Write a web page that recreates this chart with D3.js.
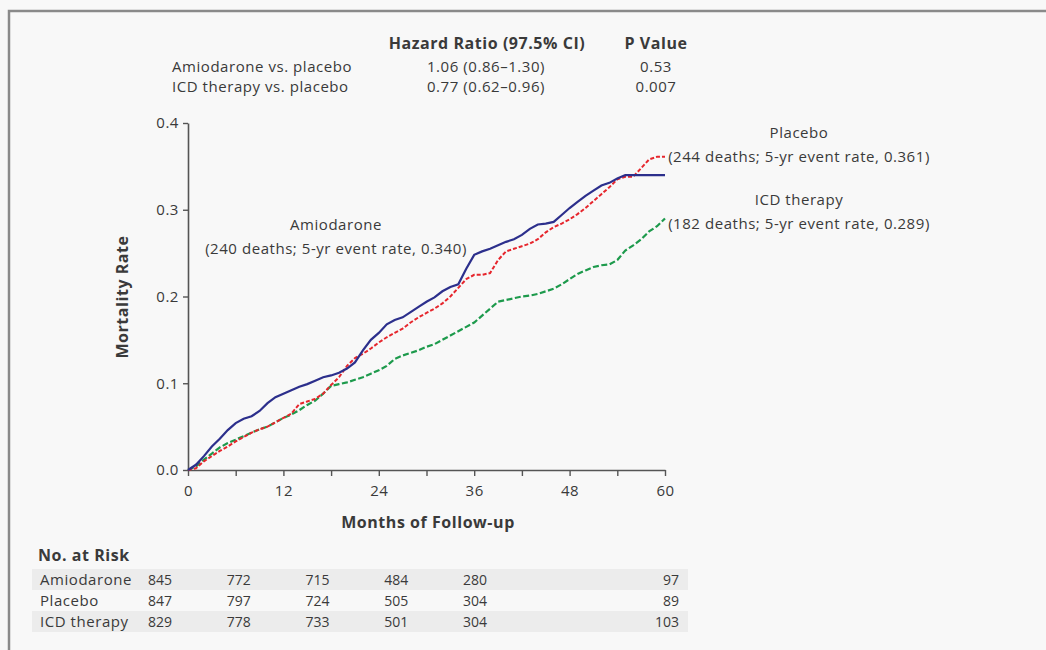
<!DOCTYPE html>
<meta charset="utf-8">
<script src="https://cdn.jsdelivr.net/npm/d3@7"></script>
<style>
  body { margin: 0; background: #f8f8f8; }
  text { font-family: "Open Sans", Lato, sans-serif; fill: #3a3a3a; letter-spacing: 0.55px; }
  text.num { letter-spacing: 0; }
</style>
<div id="chart"></div>
<script>

// months of follow-up (reading grid)
var months = d3.range(0, 61);

// cumulative mortality, one value per month
var amiodarone = [0, 0.006, 0.016, 0.027, 0.036, 0.046, 0.054, 0.059, 0.062, 0.068,
  0.077, 0.084, 0.088, 0.092, 0.096, 0.099, 0.103, 0.107, 0.109, 0.112,
  0.117, 0.124, 0.138, 0.150, 0.158, 0.168, 0.173, 0.176, 0.182, 0.188,
  0.194, 0.199, 0.206, 0.211, 0.214, 0.232, 0.248, 0.252, 0.255, 0.259,
  0.263, 0.266, 0.271, 0.278, 0.283, 0.284, 0.286, 0.294, 0.302, 0.309,
  0.316, 0.322, 0.328, 0.331, 0.336, 0.340, 0.340, 0.340, 0.340, 0.340, 0.340];
var placebo = [0, 0.002, 0.010, 0.016, 0.022, 0.027, 0.033, 0.038, 0.043, 0.047,
  0.050, 0.055, 0.060, 0.065, 0.076, 0.079, 0.082, 0.088, 0.098, 0.107,
  0.120, 0.129, 0.134, 0.140, 0.147, 0.153, 0.158, 0.163, 0.170, 0.176,
  0.181, 0.186, 0.192, 0.200, 0.210, 0.220, 0.225, 0.225, 0.227, 0.242,
  0.252, 0.255, 0.258, 0.261, 0.266, 0.274, 0.280, 0.284, 0.289, 0.295,
  0.302, 0.310, 0.318, 0.326, 0.335, 0.338, 0.338, 0.348, 0.358, 0.361, 0.361];
var icd = [0, 0.004, 0.012, 0.019, 0.026, 0.031, 0.035, 0.039, 0.043, 0.047,
  0.050, 0.055, 0.060, 0.064, 0.069, 0.075, 0.080, 0.088, 0.097, 0.099,
  0.101, 0.104, 0.107, 0.111, 0.115, 0.120, 0.128, 0.132, 0.135, 0.138,
  0.142, 0.145, 0.150, 0.155, 0.160, 0.165, 0.170, 0.178, 0.186, 0.194,
  0.196, 0.198, 0.200, 0.201, 0.203, 0.206, 0.209, 0.214, 0.220, 0.226,
  0.230, 0.234, 0.236, 0.237, 0.242, 0.253, 0.259, 0.266, 0.275, 0.281, 0.290];

var xTicks = [0, 12, 24, 36, 48, 60];
var yTicks = [0, 0.1, 0.2, 0.3, 0.4];

// hazard ratio table
var hrRows = ["Amiodarone vs. placebo", "ICD therapy vs. placebo"];
var hrValues = ["1.06 (0.86\u20131.30)", "0.77 (0.62\u20130.96)"];
var pValues = ["0.53", "0.007"];

// number at risk
var riskGroups = ["Amiodarone", "Placebo", "ICD therapy"];
var riskAmiodarone = [845, 772, 715, 484, 280, 97];
var riskPlacebo = [847, 797, 724, 505, 304, 89];
var riskIcd = [829, 778, 733, 501, 304, 103];

var W = 1046, H = 650;
var svg = d3.select("#chart").append("svg")
    .attr("width", W).attr("height", H);

svg.append("rect").attr("width", W).attr("height", H).attr("fill", "#f8f8f8");
// frame (top and left edge)
svg.append("path")
    .attr("d", "M9," + H + "V11H" + W)
    .attr("fill", "none").attr("stroke", "#8a8a8a").attr("stroke-width", 2.5);

var x = d3.scaleLinear().domain([0, 60]).range([188, 665]);
var y = d3.scaleLinear().domain([0, 0.4]).range([470, 123]);

// axes
var xAxis = svg.append("g")
    .attr("transform", "translate(0," + y(0) + ")")
    .call(d3.axisBottom(x).tickValues(d3.range(0, 61, 6)).tickSize(6).tickSizeOuter(0)
      .tickFormat(function (d) { return xTicks.indexOf(d) >= 0 ? d : ""; }));
var yAxis = svg.append("g")
    .attr("transform", "translate(" + x(0) + ",0)")
    .call(d3.axisLeft(y).tickValues(yTicks).tickSize(5).tickSizeOuter(0)
      .tickFormat(d3.format(".1f")));

[xAxis, yAxis].forEach(function (g) {
  g.select(".domain").attr("stroke", "#555").attr("stroke-width", 1.6);
  g.selectAll(".tick line").attr("stroke", "#555").attr("stroke-width", 1.4);
  g.selectAll(".tick text").attr("font-size", 15).attr("fill", "#444")
    .style("font-family", "'Open Sans', sans-serif");
});
xAxis.selectAll(".tick text").attr("dy", "1.1em");
yAxis.selectAll(".tick text").attr("dx", "-1px");

svg.append("text")
    .attr("x", 428).attr("y", 528)
    .attr("text-anchor", "middle")
    .attr("font-size", 16).attr("font-weight", "bold").attr("fill", "#2a2a2a")
    .text("Months of Follow-up");

svg.append("text")
    .attr("transform", "translate(128,297) rotate(-90)")
    .attr("text-anchor", "middle")
    .attr("font-size", 16).attr("font-weight", "bold").attr("fill", "#2a2a2a")
    .text("Mortality Rate");

// curves
var line = d3.line()
    .x(function (d, i) { return x(months[i]); })
    .y(function (d) { return y(d); });

svg.append("path").datum(icd)
    .attr("d", line).attr("fill", "none")
    .attr("stroke", "#1d9a4c").attr("stroke-width", 2.2)
    .attr("stroke-dasharray", "6,2.5");
svg.append("path").datum(placebo)
    .attr("d", line).attr("fill", "none")
    .attr("stroke", "#e6262d").attr("stroke-width", 2)
    .attr("stroke-dasharray", "4,2");
svg.append("path").datum(amiodarone)
    .attr("d", line).attr("fill", "none")
    .attr("stroke", "#2c2f8c").attr("stroke-width", 2.2);

// curve labels
function label(cx, y1, t1, t2) {
  svg.append("text").attr("x", cx).attr("y", y1)
    .attr("text-anchor", "middle").attr("font-size", 15).text(t1);
  svg.append("text").attr("x", cx).attr("y", y1 + 24)
    .attr("text-anchor", "middle").attr("font-size", 15).text(t2);
}
label(336, 230, "Amiodarone", "(240 deaths; 5-yr event rate, 0.340)");
label(799, 138, "Placebo", "(244 deaths; 5-yr event rate, 0.361)");
label(799, 205, "ICD therapy", "(182 deaths; 5-yr event rate, 0.289)");

// hazard ratio table
svg.append("text").attr("x", 487).attr("y", 49).attr("text-anchor", "middle")
    .attr("font-size", 16).attr("font-weight", "bold").attr("fill", "#2a2a2a")
    .text("Hazard Ratio (97.5% CI)");
svg.append("text").attr("x", 656).attr("y", 49).attr("text-anchor", "middle")
    .attr("font-size", 16).attr("font-weight", "bold").attr("fill", "#2a2a2a")
    .text("P Value");

hrRows.forEach(function (r, i) {
  var yy = 72 + i * 20;
  svg.append("text").attr("x", 172).attr("y", yy).attr("font-size", 15).text(r);
  svg.append("text").attr("x", 486).attr("y", yy).attr("text-anchor", "middle")
    .attr("font-size", 15).text(hrValues[i]);
  svg.append("text").attr("x", 656).attr("y", yy).attr("text-anchor", "middle")
    .attr("font-size", 15).text(pValues[i]);
});

// number at risk table
svg.append("text").attr("x", 38).attr("y", 561)
    .attr("font-size", 16).attr("font-weight", "bold").attr("fill", "#2a2a2a")
    .text("No. at Risk");

var riskData = [riskAmiodarone, riskPlacebo, riskIcd];
var col = d3.scaleLinear().domain([0, 4]).range([160, 475]);

riskData.forEach(function (vals, r) {
  var top = 569 + r * 21;
  if (r !== 1) {
    svg.append("rect").attr("x", 32).attr("y", top).attr("width", 656).attr("height", 21)
      .attr("fill", "#ececec");
  }
  svg.append("text").attr("x", 40).attr("y", top + 15.5).attr("font-size", 15)
    .text(riskGroups[r]);
  svg.selectAll(null).data(vals).enter().append("text")
    .attr("class", "num")
    .attr("x", function (d, i) { return i < 5 ? col(i) : 679; })
    .attr("y", top + 15.5)
    .attr("text-anchor", function (d, i) { return i < 5 ? "middle" : "end"; })
    .attr("font-size", 14)
    .text(function (d) { return d; });
});

</script>
